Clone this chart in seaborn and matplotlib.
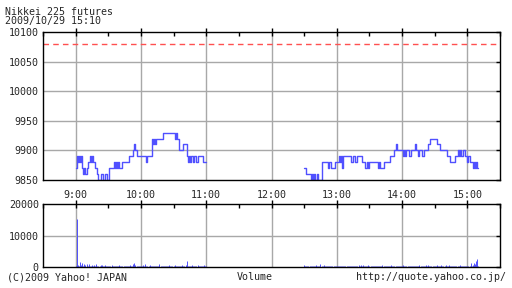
import matplotlib
matplotlib.use("Agg")
import numpy as np
import pandas as pd
import matplotlib.pyplot as plt
import seaborn as sns
from matplotlib.ticker import FixedLocator, FixedFormatter

# ---------------- data ----------------
title_text = "Nikkei 225 futures"
stamp_text = "2009/10/29 15:10"
footer_left = "(C)2009 Yahoo! JAPAN"
footer_mid = "Volume"
footer_right = "http://quote.yahoo.co.jp/"

hour_pos = [0, 60, 120, 180, 240, 300, 360]          # minutes after 9:00
hour_labels = ["9:00", "10:00", "11:00", "12:00", "13:00", "14:00", "15:00"]
half_pos = [-30, 30, 90, 150, 210, 270, 330, 390]
price_ticks = [9850, 9900, 9950, 10000, 10050, 10100]
volume_ticks = [0, 10000, 20000]
ref_price = 10080

# morning session step points (minute after 9:00, price)
am_minutes = [0, 1, 2, 3, 4, 5, 6, 7, 8, 9, 10, 11, 13, 14, 15, 16, 18, 20, 21, 23,
              25, 27, 29, 31, 35, 36, 37, 38, 39, 40, 43, 49, 53, 54, 55, 56, 57,
              65, 66, 70, 71, 72, 73, 74, 80, 91, 92, 93, 95, 99, 102, 103, 104,
              105, 106, 108, 109, 111, 112, 117, 120]
am_prices = [9870, 9890, 9880, 9890, 9880, 9890, 9870, 9860, 9870, 9860, 9870, 9880,
             9890, 9880, 9890, 9880, 9870, 9860, 9850, 9860, 9850, 9860, 9850, 9870,
             9880, 9870, 9880, 9870, 9880, 9870, 9880, 9890, 9900, 9910, 9900, 9890,
             9890, 9880, 9890, 9920, 9910, 9920, 9910, 9920, 9930, 9920, 9930, 9920,
             9900, 9910, 9890, 9880, 9890, 9880, 9890, 9880, 9890, 9880, 9890, 9880,
             9880]

# afternoon session step points
pm_minutes = [210, 212, 216, 217, 218, 219, 220, 222, 223, 226, 232, 233, 235, 238,
              242, 243, 244, 245, 246, 253, 255, 257, 259, 263, 266, 268, 269, 270,
              278, 279, 280, 283, 289, 293, 294, 295, 301, 302, 303, 304, 306, 308,
              312, 313, 315, 316, 318, 320, 324, 326, 332, 335, 341, 344, 349, 351,
              352, 353, 354, 356, 358, 360, 361, 362, 365, 366, 367, 368, 369, 370]
pm_prices = [9870, 9860, 9850, 9860, 9850, 9860, 9850, 9860, 9850, 9880, 9870, 9880,
             9870, 9880, 9890, 9880, 9890, 9870, 9890, 9880, 9890, 9880, 9890, 9880,
             9870, 9880, 9870, 9880, 9870, 9880, 9870, 9880, 9890, 9900, 9910, 9900,
             9890, 9900, 9890, 9900, 9890, 9900, 9910, 9900, 9890, 9900, 9890, 9900,
             9910, 9920, 9910, 9900, 9890, 9880, 9890, 9900, 9890, 9900, 9890, 9900,
             9890, 9880, 9890, 9880, 9870, 9880, 9870, 9880, 9870, 9870]

# volume per minute, morning 9:00-11:00 (121 values)
am_volume = [300, 15200, 500, 400, 1500, 600, 1200, 400, 1100, 700,
             900, 300, 800, 400, 300, 600, 200, 500, 300, 900,
             400, 200, 300, 500, 700, 300, 200, 600, 300, 200,
             400, 300, 200, 500, 300, 200, 400, 300, 200, 300,
             500, 300, 200, 400, 300, 200, 300, 400, 200, 300,
             600, 400, 300, 800, 1300, 500, 300, 200, 400, 300,
             200, 300, 500, 300, 800, 200, 300, 400, 700, 300,
             200, 300, 200, 400, 300, 200, 300, 900, 300, 200,
             300, 200, 400, 300, 200, 300, 500, 300, 200, 300,
             400, 700, 300, 200, 300, 400, 200, 300, 600, 200,
             300, 500, 2000, 300, 200, 400, 300, 500, 200, 300,
             200, 300, 600, 200, 300, 400, 200, 300, 500, 200,
             300]

# volume per minute, afternoon 12:30-15:10 (161 values)
pm_volume = [500, 400, 300, 200, 300, 400, 200, 300, 200, 300,
             300, 600, 300, 200, 300, 800, 300, 200, 600, 300,
             200, 300, 200, 400, 300, 200, 300, 200, 300, 200,
             400, 300, 200, 300, 200, 300, 200, 300, 400, 200,
             300, 200, 300, 200, 300, 200, 300, 200, 300, 200,
             600, 300, 700, 200, 500, 300, 200, 300, 200, 600,
             300, 200, 300, 200, 400, 300, 200, 300, 200, 300,
             200, 300, 500, 200, 300, 200, 300, 400, 200, 300,
             500, 300, 200, 300, 200, 300, 400, 200, 300, 200,
             300, 500, 200, 300, 200, 300, 200, 400, 300, 200,
             300, 200, 300, 400, 200, 300, 500, 300, 200, 300,
             200, 300, 600, 300, 700, 200, 300, 200, 400, 300,
             200, 300, 500, 300, 200, 300, 700, 400, 200, 300,
             500, 300, 200, 600, 300, 200, 300, 400, 200, 300,
             300, 200, 300, 600, 300, 200, 300, 200, 400, 300,
             300, 200, 300, 1200, 400, 600, 1400, 800, 1900, 2500,
             300]

# ---------------- styling ----------------
sns.set_style("white")
plt.rcParams["font.family"] = ["DejaVu Sans Mono"]
FS = 7.2
BLUE = "#5050ff"
GRID = "#a8a8a8"

fig = plt.figure(figsize=(5.12, 2.88), dpi=100)
ax = fig.add_axes([43 / 512, 1 - 180 / 288, 457 / 512, 148 / 288])
axv = fig.add_axes([43 / 512, 1 - 267 / 288, 457 / 512, 63 / 288])

am_df = pd.DataFrame({"minute": am_minutes, "price": am_prices})
pm_df = pd.DataFrame({"minute": pm_minutes, "price": pm_prices})

for a in (ax, axv):
    a.set_xlim(-30, 390)
    a.xaxis.set_major_locator(FixedLocator(hour_pos))
    a.xaxis.set_minor_locator(FixedLocator(half_pos))
    for x in hour_pos:
        a.axvline(x, color=GRID, lw=1.0, zorder=0.5)
    for s in a.spines.values():
        s.set_color("black")
        s.set_linewidth(1.0)
    a.tick_params(which="both", direction="in", top=True, right=True,
                  length=3, width=1.0, color="black", labelsize=FS, pad=3)
    a.tick_params(axis="x", which="major", direction="inout", length=6, pad=4)

# price panel
ax.set_ylim(9850, 10100)
ax.yaxis.set_major_locator(FixedLocator(price_ticks))
for y in price_ticks[1:-1]:
    ax.axhline(y, color=GRID, lw=1.0, zorder=0.5)
ax.axhline(ref_price, color="#ff5050", lw=1.0, dashes=(4, 3), zorder=1)
sns.lineplot(data=am_df, x="minute", y="price", ax=ax, color=BLUE, lw=1.0,
             drawstyle="steps-post", estimator=None, zorder=2)
sns.lineplot(data=pm_df, x="minute", y="price", ax=ax, color=BLUE, lw=1.0,
             drawstyle="steps-post", estimator=None, zorder=2)
ax.xaxis.set_major_formatter(FixedFormatter(hour_labels))
ax.set_xlabel("")
ax.set_ylabel("")

# volume panel
vol_min = list(range(0, len(am_volume))) + list(range(210, 210 + len(pm_volume)))
vol_val = am_volume + pm_volume
axv.set_ylim(0, 20000)
axv.yaxis.set_major_locator(FixedLocator(volume_ticks))
axv.axhline(10000, color=GRID, lw=1.0, zorder=0.5)
axv.vlines(vol_min, 0, vol_val, color=BLUE, lw=0.7, zorder=2)
axv.tick_params(axis="x", labelbottom=False)

# texts
fig.text(5 / 512, 1 - 12 / 288, title_text, fontsize=FS, va="center", ha="left")
fig.text(5 / 512, 1 - 21 / 288, stamp_text, fontsize=FS, va="center", ha="left")
fig.text(7 / 512, 1 - 277 / 288, footer_left, fontsize=FS, va="center", ha="left")
fig.text(255 / 512, 1 - 277 / 288, footer_mid, fontsize=FS, va="center", ha="center")
fig.text(506 / 512, 1 - 277 / 288, footer_right, fontsize=FS, va="center", ha="right")

fig.savefig("out.png", dpi=100, facecolor="white")
